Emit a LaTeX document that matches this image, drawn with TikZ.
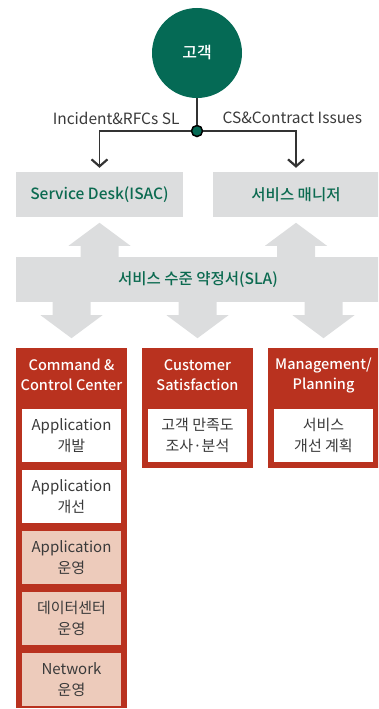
\documentclass[tikz,border=0pt]{standalone}
\usepackage{fontspec}
\setmainfont{Noto Sans CJK KR}[BoldFont={Noto Sans CJK KR Medium}]
\usetikzlibrary{arrows.meta,calc,positioning}

\definecolor{custgreen}{HTML}{056A55}
\definecolor{textgreen}{HTML}{0B6A50}
\definecolor{slagray}{HTML}{DCDDDE}
\definecolor{colred}{HTML}{B9321F}
\definecolor{oppink}{HTML}{EDCBBB}
\definecolor{itemtext}{HTML}{3A3A3A}
\definecolor{linegray}{HTML}{333333}

\begin{document}
\begin{tikzpicture}[
  x=1pt,y=1pt,
  font=\fontsize{15}{21}\selectfont,
  custnode/.style={circle,fill=custgreen,text=white,minimum size=90pt,inner sep=0pt,font=\fontsize{16}{20}\selectfont\bfseries},
  dotnode/.style={circle,fill=custgreen,draw=black,line width=1.5pt,minimum size=11pt,inner sep=0pt},
  graybox/.style={fill=slagray,minimum width=167pt,minimum height=45pt,inner sep=0pt,text=textgreen,font=\fontsize{15.5}{18}\selectfont\bfseries},
  column/.style={fill=colred,minimum width=111pt,inner sep=0pt,anchor=north},
  colhead/.style={text=white,align=center,font=\fontsize{14.5}{20}\selectfont\bfseries},
  itembox/.style={fill=white,minimum width=99pt,minimum height=53pt,inner sep=0pt,align=center,text=itemtext},
  opbox/.style={itembox,fill=oppink},
  flowlabel/.style={text=itemtext,font=\fontsize{15.5}{16}\selectfont},
  conn/.style={line width=1.5pt,draw=linegray,-{Straight Barb[length=7pt,width=16pt,line width=2.2pt]}},
  blockarrow/.style={fill=slagray},
]
  \useasboundingbox (0,0) rectangle (378,-709);
  \clip (0,0) rectangle (378,-709);

  % customer and split point
  \node[custnode] (cust) at (197,-53) {고객};
  \node[dotnode] (jn) at (197,-131) {};

  \node[graybox] (sd) at (99.5,-194.5) {Service Desk(ISAC)};
  \node[graybox] (sm) at (296,-194.5) {서비스 매니저};

  \draw[line width=1.5pt,draw=linegray] (cust) -- (jn);
  \draw[conn,shorten >=4pt] (jn) -| (sd.north);
  \draw[conn,shorten >=4pt] (jn) -| (sm.north);

  \node[flowlabel,anchor=east] at ($(jn.center)+(-14,13)$) {Incident\&RFCs SL};
  \node[flowlabel,anchor=west] at ($(jn.center)+(22,13)$) {CS\&Contract Issues};

  % SLA band
  \node[fill=slagray,minimum width=364pt,minimum height=45pt,inner sep=0pt,text=textgreen,
        font=\fontsize{15.5}{18}\selectfont\bfseries] (sla) at (198,-279.5) {서비스 수준 약정서(SLA)};

  % columns
  \node[column,minimum height=360pt] (ccc) at (71.5,-348) {};
  \node[column,minimum height=120pt] (cs) at (197.5,-348) {};
  \node[column,minimum height=120pt] (mp) at (323.5,-348) {};

  \node[colhead] (ccch) at ($(ccc.north)+(0,-27)$) {Command \&\\Control Center};
  \node[colhead] (csh) at ($(cs.north)+(0,-27)$) {Customer\\Satisfaction};
  \node[colhead] (mph) at ($(mp.north)+(0,-27)$) {Management/\\Planning};

  \node[itembox,below=61pt of ccc.north] (appdev) {Application\\개발};
  \node[itembox,below=7.5pt of appdev] (appimp) {Application\\개선};
  \node[opbox,below=7.5pt of appimp] (appop) {Application\\운영};
  \node[opbox,below=7.5pt of appop] (dcop) {데이터센터\\운영};
  \node[opbox,below=7.5pt of dcop] (netop) {Network\\운영};

  \node[itembox,below=61pt of cs.north] (survey) {고객 만족도\\조사·분석};
  \node[itembox,below=61pt of mp.north] (plan) {서비스\\개선 계획};

  % block arrows
  \foreach \b in {sd,sm}{
    \fill[blockarrow] (sla.north -| \b.south) ++(-19,-1) -- ++(0,12) -- ++(-12,0)
      -- ++(31,23) -- ++(31,-23) -- ++(-12,0) -- ++(0,-12) -- cycle;
  }
  \foreach \c in {ccc,cs,mp}{
    \fill[blockarrow] (sla.south -| \c.north) ++(-19,1) -- ++(0,-14) -- ++(-12,0)
      -- ++(31,-23) -- ++(31,23) -- ++(-12,0) -- ++(0,14) -- cycle;
  }
\end{tikzpicture}
\end{document}
